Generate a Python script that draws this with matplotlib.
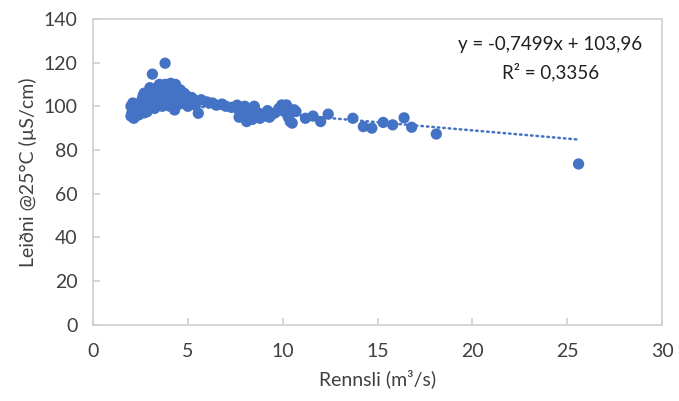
import numpy as np
import matplotlib
matplotlib.use('Agg')
import matplotlib.pyplot as plt

# flow (m3/s) and conductivity values
rennsli = [
    2.0, 2.0, 2.05, 2.1, 2.1, 2.15, 2.2, 2.25,
    2.4, 2.45, 2.5, 2.55, 2.6, 2.65, 2.7, 2.75, 2.8, 2.7,
    2.85, 2.9, 2.95, 3.0, 3.05, 3.1, 3.13, 3.15, 3.2, 2.9, 3.0,
    3.25, 3.3, 3.35, 3.4, 3.45, 3.5, 3.55, 3.3, 3.45, 3.6, 3.5,
    3.65, 3.7, 3.75, 3.8, 3.85, 3.9, 3.8, 3.95, 4.0, 3.7,
    4.3, 4.05, 4.1, 4.15, 4.2, 4.3, 4.35, 4.4, 4.45, 4.5, 4.1,
    4.55, 4.6, 4.7, 4.8, 4.9, 5.0, 4.6, 4.9,
    5.05, 5.1, 5.2, 5.3, 5.4, 5.55,
    5.7, 6.0, 6.3, 6.5, 6.8, 7.0, 7.3, 7.6, 7.7, 7.9, 8.0, 8.2, 8.3,
    7.7, 8.1, 8.4, 8.8, 9.3,
    8.5, 8.7, 9.0, 9.2, 9.4, 9.6, 9.8, 9.95, 10.2, 10.1,
    10.3, 10.5, 10.4, 10.6, 10.7, 11.2, 11.6, 12.0, 12.4,
    13.7, 14.25, 14.7, 15.3, 15.8, 16.4, 16.8, 18.1, 25.6,
]
leidni = [
    95.5, 100.0, 97.0, 98.5, 101.5, 94.5, 96.0, 99.0,
    96.0, 98.0, 100.0, 102.0, 103.5, 105.0, 97.0, 99.5, 101.0, 106.0,
    97.5, 99.0, 101.0, 103.0, 105.0, 106.5, 114.7, 108.0, 100.0, 102.0, 108.5,
    99.0, 101.0, 103.0, 104.5, 106.0, 108.0, 109.5, 105.0, 100.5, 102.0, 110.0,
    100.0, 102.0, 104.0, 119.7, 106.0, 108.0, 110.0, 103.0, 107.0, 109.0,
    98.3, 100.0, 102.0, 104.0, 106.0, 108.0, 110.0, 101.0, 105.0, 103.0, 110.5,
    101.0, 103.0, 104.5, 106.0, 102.0, 100.0, 107.5, 105.0,
    101.0, 102.5, 104.0, 103.0, 100.5, 96.8,
    103.0, 102.0, 101.5, 100.5, 101.0, 100.0, 99.5, 100.5, 98.0, 99.0, 100.0, 97.0, 94.0,
    95.0, 93.0, 94.0, 94.5, 95.0,
    100.0, 97.0, 95.5, 98.0, 96.0, 97.0, 99.0, 100.6, 100.6, 97.5,
    95.0, 92.3, 93.0, 98.4, 97.6, 94.5, 95.5, 93.0, 96.4,
    94.5, 90.7, 90.0, 92.6, 91.5, 94.7, 90.4, 87.3, 73.6,
]

slope, intercept = -0.7499, 103.96
blue = '#4472C4'
txt = '#404040'
edge = '#D0D0D0'

plt.rcParams['font.family'] = ['Lato', 'DejaVu Sans']

fig = plt.figure(figsize=(6.79, 4.01), dpi=100)
ax = fig.add_axes([0.137, 0.19, 0.838, 0.763])

ax.scatter(rennsli, leidni, s=66, color=blue, edgecolors='none', zorder=3)

xt = np.array([min(rennsli), max(rennsli)])
ax.plot(xt, slope * xt + intercept, color=blue, lw=1.8, ls=(0, (0.6, 1.6)),
        dash_capstyle='round', zorder=2)

ax.text(24.1, 128.2, 'y = -0,7499x + 103,96', ha='center', va='center',
        fontsize=13.5, color='#202020')
ax.text(24.1, 115.8, 'R² = 0,3356', ha='center', va='center',
        fontsize=13.5, color='#202020')

ax.set_xlim(0, 30)
ax.set_ylim(0, 140)
ax.set_xticks(range(0, 31, 5))
ax.set_yticks(range(0, 141, 20))
for s in ax.spines.values():
    s.set_color(edge)
    s.set_linewidth(1.2)
ax.tick_params(direction='in', length=5, width=1.2, color=edge,
               labelsize=14, labelcolor=txt, top=False, right=False)
ax.tick_params(axis='x', pad=13)
ax.tick_params(axis='y', pad=11)

ax.set_xlabel('Rennsli (m³/s)', fontsize=14, color=txt, labelpad=7)
ax.set_ylabel('Leiðni @25°C (µS/cm)', fontsize=14, color=txt, labelpad=5)

fig.savefig('out.png', dpi=100)
